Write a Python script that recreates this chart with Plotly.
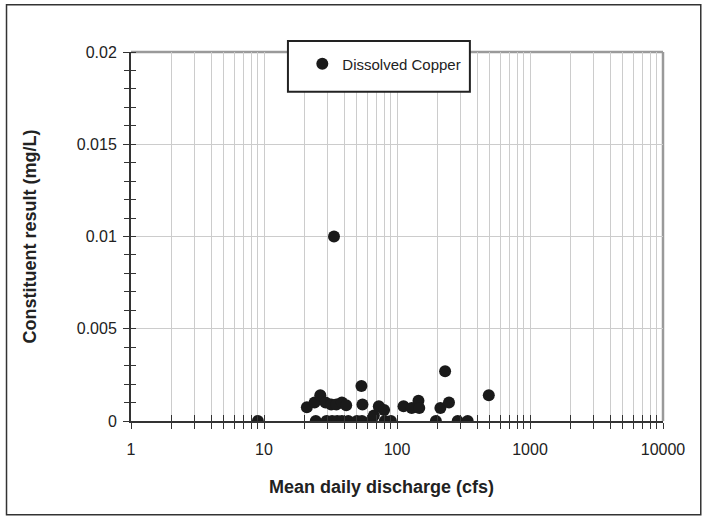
import plotly.graph_objects as go

# Mean daily discharge (cfs) and dissolved copper result (mg/L)
discharge = [9, 21, 24, 26.5, 29, 32, 35, 38.5, 41.5, 33.6, 54, 55,
             24.5, 29.5, 32.5, 35.5, 38.5, 43, 50, 54.5,
             64.5, 67, 73, 80, 81, 90, 112, 129, 145, 147,
             196, 212, 230, 246, 286, 340, 490]
copper = [0, 0.00075, 0.001, 0.0014, 0.001, 0.0009, 0.0009, 0.001, 0.00085, 0.01, 0.0019, 0.0009,
          0, 0, 0, 0, 0, 0, 0, 0,
          0.00005, 0.0003, 0.0008, 0.0006, 0, 0, 0.0008, 0.0007, 0.0011, 0.0007,
          0, 0.0007, 0.0027, 0.001, 0, 0, 0.0014]

series_name = "Dissolved Copper"
x_ticks = [1, 10, 100, 1000, 10000]
x_ticktext = ["1", "10", "100", "1000", "10000"]
y_ticks = [0, 0.005, 0.01, 0.015, 0.02]
y_ticktext = ["0", "0.005", "0.01", "0.015", "0.02"]

FONT = "Liberation Sans, Arial, sans-serif"
INK = "#1a1a1a"
GRID = "#cccccc"
AXIS = "#333333"

fig = go.Figure()
fig.add_trace(go.Scatter(
    x=discharge, y=copper, mode="markers", name=series_name,
    marker=dict(size=12, color=INK, line=dict(width=0)),
    xaxis="x", yaxis="y",
))
# empty trace that makes the overlay (inside-tick) axes render
fig.add_trace(go.Scatter(x=[None], y=[None], xaxis="x2", yaxis="y2",
                         showlegend=False, hoverinfo="skip"))

fig.update_layout(
    width=708, height=521,
    margin=dict(l=131, r=45, t=52, b=100, pad=0),
    paper_bgcolor="white", plot_bgcolor="white",
    font=dict(family=FONT, size=16, color="#222"),
    showlegend=True,
    legend=dict(
        x=0.322, y=1.012, xanchor="left", yanchor="top",
        bgcolor="rgba(0,0,0,0)", borderwidth=0,
        font=dict(family=FONT, size=15, color="#222"),
    ),
    xaxis=dict(
        type="log", range=[0, 4], zeroline=False,
        tickvals=x_ticks, ticktext=x_ticktext,
        ticks="outside", ticklen=6, tickwidth=1, tickcolor=AXIS,
        showgrid=True, gridcolor=GRID, gridwidth=1,
        minor=dict(dtick="D1", ticks="outside", ticklen=6, tickcolor=AXIS,
                   showgrid=True, gridcolor=GRID, gridwidth=1),
        showline=True, linecolor=AXIS, linewidth=2,
        tickfont=dict(size=16), ticklabelstandoff=7,
    ),
    xaxis2=dict(
        type="log", range=[0, 4], zeroline=False, showline=False,
        overlaying="x", side="bottom", anchor="y2",
        tickvals=x_ticks, ticktext=["", "", "", "", ""],
        ticks="inside", ticklen=6, tickwidth=1, tickcolor=AXIS,
        showgrid=False,
        minor=dict(dtick="D1", ticks="inside", ticklen=6, tickcolor=AXIS, showgrid=False),
    ),
    yaxis=dict(
        range=[0, 0.02], tickvals=y_ticks, ticktext=y_ticktext,
        ticks="outside", ticklen=6, tickwidth=1, tickcolor=AXIS,
        showgrid=True, gridcolor=GRID, gridwidth=1, zeroline=False,
        minor=dict(dtick=0.001, ticks="outside", ticklen=5, tickcolor=AXIS, showgrid=False),
        showline=True, linecolor=AXIS, linewidth=2,
        tickfont=dict(size=16), ticklabelstandoff=3,
    ),
    yaxis2=dict(
        range=[0, 0.02], overlaying="y", side="left", anchor="x2",
        tickvals=y_ticks, ticktext=["", "", "", "", ""],
        ticks="", showgrid=False, zeroline=False, showline=False,
        minor=dict(dtick=0.001, ticks="inside", ticklen=5, tickcolor=AXIS, showgrid=False),
    ),
)

shapes = [
    # gray frame on top and right of the plotting area
    dict(type="line", xref="paper", yref="paper", x0=0, x1=1, y0=1, y1=1,
         line=dict(color="#9a9a9a", width=2.5), layer="below"),
    dict(type="line", xref="paper", yref="paper", x0=1, x1=1, y0=0, y1=1,
         line=dict(color="#9a9a9a", width=2.5), layer="below"),
    # legend frame
    dict(type="rect", xref="paper", yref="paper", x0=0.295, x1=0.637, y0=0.892, y1=1.03,
         fillcolor="white", line=dict(color="#222", width=2), layer="above"),
    # outer chart border
    dict(type="rect", xref="paper", yref="paper", x0=-0.234, x1=1.071, y0=-0.254, y1=1.128,
         fillcolor="rgba(0,0,0,0)", line=dict(color="#333", width=1.5), layer="above"),
]
fig.update_layout(shapes=shapes)

fig.add_annotation(text="<b>Mean daily discharge (cfs)</b>", xref="paper", yref="paper",
                   x=0.47, y=-0.18, xanchor="center", yanchor="middle", showarrow=False,
                   font=dict(family=FONT, size=18, color="#222"))
fig.add_annotation(text="<b>Constituent result (mg/L)</b>", xref="paper", yref="paper",
                   x=-0.19, y=0.5, xanchor="center", yanchor="middle", showarrow=False,
                   textangle=-90, font=dict(family=FONT, size=18, color="#222"))

fig.write_html("out.html")
